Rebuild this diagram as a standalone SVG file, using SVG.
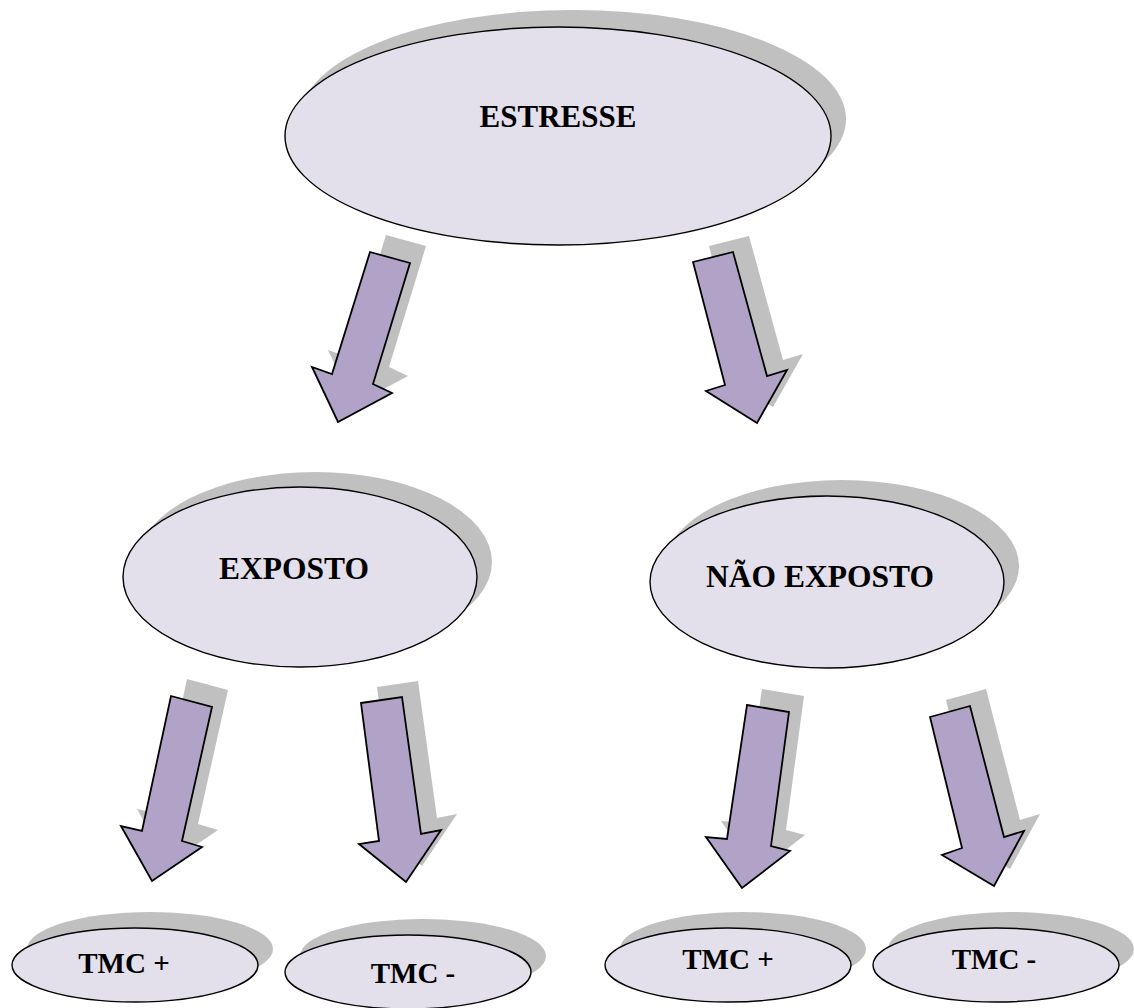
<svg xmlns="http://www.w3.org/2000/svg" width="1134" height="1008" viewBox="0 0 1134 1008">
<style>
.sh{fill:#c0c0c0;stroke:none}
.nd{fill:#e3dfeb;stroke:#000;stroke-width:1.4}
.ar{fill:#b1a2c7;stroke:#000;stroke-width:1.8;stroke-linejoin:miter}
.t{font-family:"Liberation Serif","Times New Roman",serif;font-weight:bold;fill:#000;text-anchor:middle}
</style>
<rect width="1134" height="1008" fill="#fff"/>
<g id="connectors">
  <g id="a1">
    <polygon class="sh" transform="translate(16,-17)" points="370,252 410,263 373,384 392,393 338,422 312,367 332,374"/>
    <polygon class="ar" points="370,252 410,263 373,384 392,393 338,422 312,367 332,374"/>
  </g>
  <g id="a2">
    <polygon class="sh" transform="translate(16,-16)" points="693,262 733,252 767,376 787,370 757,423 706,391 725,385"/>
    <polygon class="ar" points="693,262 733,252 767,376 787,370 757,423 706,391 725,385"/>
  </g>
  <g id="a3">
    <polygon class="sh" transform="translate(16,-17)" points="171,696 212,707 182,841 202,847 152,881 121,826 142,831"/>
    <polygon class="ar" points="171,696 212,707 182,841 202,847 152,881 121,826 142,831"/>
  </g>
  <g id="a4">
    <polygon class="sh" transform="translate(16,-16)" points="361,703 402,697 421,834 441,830 406,882 359,844 379,841"/>
    <polygon class="ar" points="361,703 402,697 421,834 441,830 406,882 359,844 379,841"/>
  </g>
  <g id="a5">
    <polygon class="sh" transform="translate(15,-16)" points="747,705 789,712 771,846 790,851 742,888 706,837 727,839"/>
    <polygon class="ar" points="747,705 789,712 771,846 790,851 742,888 706,837 727,839"/>
  </g>
  <g id="a6">
    <polygon class="sh" transform="translate(16,-17)" points="930,717 970,706 1004,837 1024,831 994,886 942,855 962,848"/>
    <polygon class="ar" points="930,717 970,706 1004,837 1024,831 994,886 942,855 962,848"/>
  </g>
</g>
<g id="estresse">
  <ellipse class="sh" cx="573" cy="119" rx="273" ry="109"/>
  <ellipse class="nd" cx="558" cy="136" rx="273" ry="109"/>
  <text class="t" x="558" y="127" font-size="31">ESTRESSE</text>
</g>
<g id="exposto">
  <ellipse class="sh" cx="315" cy="562" rx="177" ry="90"/>
  <ellipse class="nd" cx="300" cy="577" rx="177" ry="90"/>
  <text class="t" x="294" y="579" font-size="31.5">EXPOSTO</text>
</g>
<g id="nao-exposto">
  <ellipse class="sh" cx="842" cy="566" rx="177" ry="86"/>
  <ellipse class="nd" cx="827" cy="582" rx="177" ry="86"/>
  <text class="t" x="820" y="587" font-size="31.5">NÃO EXPOSTO</text>
</g>
<g id="tmc-pos-1">
  <ellipse class="sh" cx="150" cy="949" rx="123" ry="37"/>
  <ellipse class="nd" cx="135" cy="965" rx="123" ry="37"/>
  <text class="t" x="124" y="973" font-size="29">TMC +</text>
</g>
<g id="tmc-neg-1">
  <ellipse class="sh" cx="423" cy="956" rx="123" ry="37"/>
  <ellipse class="nd" cx="408" cy="972" rx="123" ry="37"/>
  <text class="t" x="413" y="983" font-size="29">TMC -</text>
</g>
<g id="tmc-pos-2">
  <ellipse class="sh" cx="743" cy="949" rx="123" ry="37"/>
  <ellipse class="nd" cx="728" cy="965" rx="123" ry="37"/>
  <text class="t" x="728" y="969" font-size="29">TMC +</text>
</g>
<g id="tmc-neg-2">
  <ellipse class="sh" cx="1011" cy="949" rx="123" ry="37"/>
  <ellipse class="nd" cx="996" cy="965" rx="123" ry="37"/>
  <text class="t" x="994" y="969" font-size="29">TMC -</text>
</g>
</svg>
